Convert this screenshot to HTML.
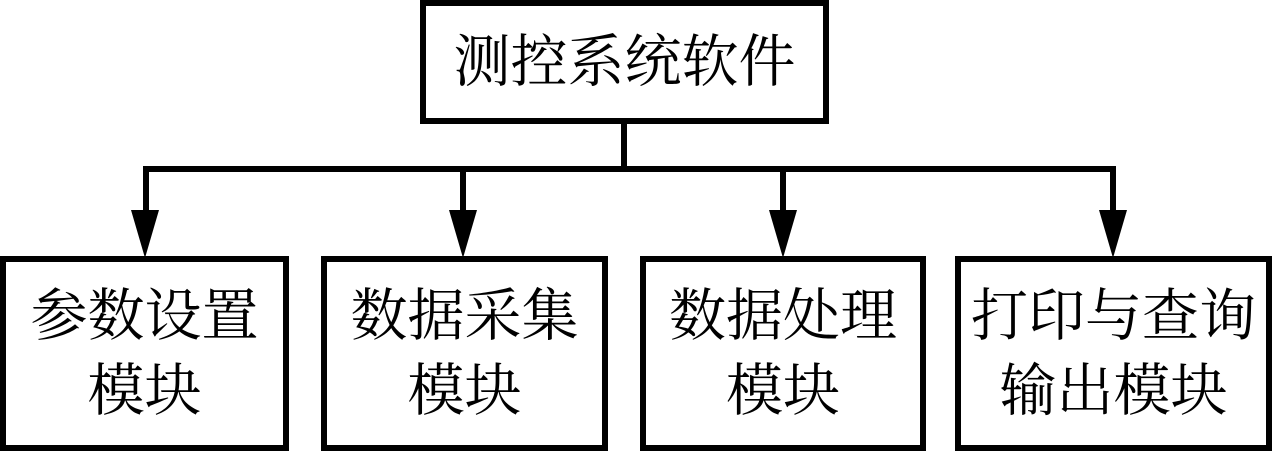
<!DOCTYPE html>
<html><head><meta charset="utf-8"><style>
body{margin:0;width:1272px;height:451px;background:#fff;position:relative;overflow:hidden;font-family:"Liberation Serif","Noto Serif CJK SC",serif;}
.b{position:absolute;box-sizing:border-box;border:6px solid #000;display:flex;align-items:center;justify-content:center;text-align:center;font-size:57px;line-height:75px;color:#000;}
.l{position:absolute;background:#000;}
</style></head><body>
<div class="b" style="left:420px;top:0;width:409px;height:124px;">测控系统软件</div>
<div class="l" style="left:621px;top:122px;width:6px;height:50px;"></div>
<div class="l" style="left:143px;top:166px;width:973px;height:6px;"></div>
<svg style="position:absolute;left:0;top:0" width="1272" height="451">
<g fill="#000">
<rect x="143" y="166" width="6" height="50"/><polygon points="131,210 159,210 145,258"/>
<rect x="460" y="166" width="6" height="50"/><polygon points="449,210 477,210 463,258"/>
<rect x="780" y="166" width="6" height="50"/><polygon points="769,210 797,210 783,258"/>
<rect x="1110" y="166" width="6" height="50"/><polygon points="1099,210 1127,210 1113,258"/>
</g></svg>
<div class="b" style="left:0;top:256px;width:289px;height:195px;">参数设置<br>模块</div>
<div class="b" style="left:321px;top:256px;width:287px;height:195px;">数据采集<br>模块</div>
<div class="b" style="left:640px;top:256px;width:286px;height:195px;">数据处理<br>模块</div>
<div class="b" style="left:955px;top:256px;width:317px;height:195px;">打印与查询<br>输出模块</div>
</body></html>
